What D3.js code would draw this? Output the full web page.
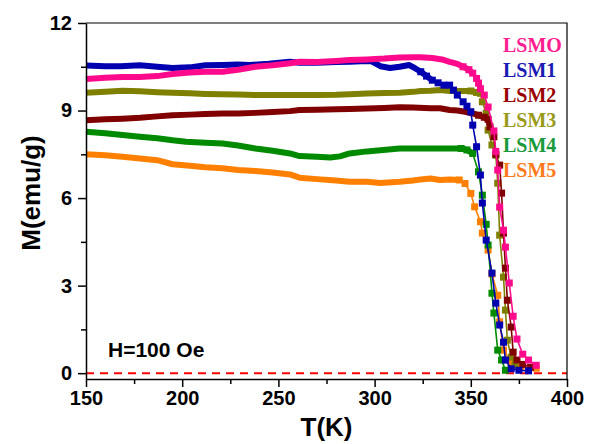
<!DOCTYPE html>
<html><head><meta charset="utf-8">
<script src="https://cdn.jsdelivr.net/npm/d3@7/dist/d3.min.js"></script>
<style>body{margin:0;background:#fff}svg{display:block}</style>
</head><body>
<script>
const seriesNames = ["LSMO","LSM1","LSM2","LSM3","LSM4","LSM5"];
const LSMO_T = [150,160,169,178,187,195,204,212,221,229,238,247,256,261,270,280,287,296,305,313,320,324,330,335,339,343,346,349,351,353,354,355,357,359,362,363,364,365,367,368,370,372,374,377,380,384];
const LSMO_M = [10.08,10.12,10.15,10.15,10.18,10.25,10.3,10.33,10.33,10.4,10.5,10.55,10.62,10.67,10.66,10.7,10.73,10.75,10.78,10.82,10.83,10.83,10.8,10.75,10.67,10.6,10.5,10.4,10.28,10.1,9.94,9.75,9.53,9.12,8.3,7.6,6.96,5.69,4.9,4.32,3.09,1.95,1.17,0.65,0.45,0.27];
const LSM1_T = [150,160,168,178,187,195,204,212,221,229,235,245,256,261,270,280,287,293,298,303,308,313,318,321,324,327,330,333,336,339,341,343,346,348,350,351,353,355,356,358,361,363,365,367,368,371,375,380];
const LSM1_M = [10.54,10.52,10.52,10.55,10.5,10.46,10.48,10.55,10.56,10.58,10.56,10.6,10.67,10.64,10.64,10.66,10.67,10.69,10.7,10.52,10.46,10.5,10.56,10.45,10.33,10.18,10.04,9.95,9.87,9.87,9.7,9.53,9.3,9.15,8.96,8.5,7.76,6.79,5.83,4.56,3.43,2.4,1.65,1.06,0.45,0.15,0.1,0.08];
const LSM2_T = [150,160,169,178,187,195,204,212,221,229,238,247,256,261,270,280,287,296,305,313,320,329,334,339,343,347,351,354,357,359,360,362,363,365,366,367,368,369,371,372,374,377,381];
const LSM2_M = [8.67,8.7,8.72,8.75,8.8,8.84,8.86,8.88,8.9,8.9,8.92,8.95,8.98,9.02,9.03,9.04,9.05,9.07,9.09,9.11,9.1,9.08,9.08,9.02,9.0,8.96,8.9,8.84,8.77,8.7,8.44,8.1,7.5,7.13,6.17,4.8,3.6,2.5,1.58,0.72,0.45,0.3,0.2];
const LSM3_T = [150,160,169,178,187,195,204,212,221,229,238,247,256,261,270,280,287,296,305,313,320,324,329,334,339,345,350,353,355,356,358,359,361,363,364,365,367,368,369,371,373];
const LSM3_M = [9.61,9.64,9.68,9.66,9.63,9.61,9.59,9.57,9.56,9.55,9.53,9.53,9.53,9.53,9.53,9.54,9.56,9.58,9.6,9.61,9.64,9.67,9.68,9.7,9.67,9.67,9.67,9.62,9.59,9.3,8.91,8.33,7.82,7.47,6.51,4.73,3.29,2.16,1.13,0.55,0.27];
const LSM4_T = [150,160,169,178,187,195,202,212,221,229,238,247,256,261,270,277,282,287,296,303,313,320,329,334,339,345,348,351,354,356,358,359,361,362,364,366,368];
const LSM4_M = [8.27,8.22,8.16,8.1,8.05,7.98,7.93,7.9,7.87,7.8,7.7,7.62,7.53,7.44,7.42,7.39,7.43,7.53,7.6,7.64,7.7,7.7,7.7,7.7,7.7,7.7,7.65,7.53,6.9,6.1,5.1,4.39,2.74,2.06,0.79,0.45,0.1];
const LSM5_T = [150,160,169,178,187,195,204,212,221,229,238,247,256,261,270,280,287,296,303,313,320,324,329,334,339,344,347,350,352,355,356,359,361,364,365,367,371,376,384];
const LSM5_M = [7.5,7.47,7.42,7.36,7.3,7.16,7.11,7.06,7.02,6.96,6.93,6.88,6.81,6.7,6.65,6.6,6.56,6.56,6.52,6.56,6.6,6.64,6.67,6.62,6.64,6.62,6.5,6.16,5.7,5.19,4.8,4.22,3.4,2.67,1.76,0.79,0.34,0.2,0.17];
const onsetT = [352,330,360,355,351,346];
const xTicks = [150,200,250,300,350,400];
const yTicks = [0,3,6,9,12];
const lineColors = ["#ff0a8c","#0000b0","#800000","#808000","#008a00","#ff8000"];
const textColors = ["#ff2090","#1a1ab4","#9a0000","#9a9a1a","#1a9a3a","#ff7a1a"];

const Ts = [LSMO_T,LSM1_T,LSM2_T,LSM3_T,LSM4_T,LSM5_T];
const Ms = [LSMO_M,LSM1_M,LSM2_M,LSM3_M,LSM4_M,LSM5_M];

const W=594,H=444, L=86,R=567,T=23,B=379;
const svg=d3.select("body").append("svg").attr("width",W).attr("height",H);
const x=d3.scaleLinear().domain([150,400]).range([L,R]);
const y=d3.scaleLinear().domain([-0.2,12]).range([B,T]);

svg.append("line").attr("x1",x(150)).attr("x2",x(400)).attr("y1",y(0)).attr("y2",y(0))
  .attr("stroke","#ff0000").attr("stroke-width",2).attr("stroke-dasharray","8,6");

const line=d3.line().x(d=>x(d[0])).y(d=>y(d[1]));
for(let i=5;i>=0;i--){
  const pts=Ts[i].map((t,k)=>[t,Ms[i][k]]);
  const g=svg.append("g");
  g.append("path").datum(pts.filter(p=>p[0]<=onsetT[i])).attr("d",line)
    .attr("fill","none").attr("stroke",lineColors[i]).attr("stroke-width",6).attr("stroke-linejoin","round");
  g.append("path").datum(pts).attr("d",line)
    .attr("fill","none").attr("stroke",lineColors[i]).attr("stroke-width",1.6);
  g.selectAll("rect").data(pts.filter(p=>p[0]>=onsetT[i]-6)).join("rect")
    .attr("x",d=>x(d[0])-3.5).attr("y",d=>y(d[1])-3.5).attr("width",7).attr("height",7)
    .attr("fill",lineColors[i]);
}

svg.append("path").attr("d",`M${L},${T}H${R}V${B}`).attr("fill","none").attr("stroke","#000").attr("stroke-width",1.2);

const xAxis=d3.axisBottom(x).tickValues(xTicks).tickSize(8).tickSizeOuter(0).tickPadding(4);
const gx=svg.append("g").attr("transform",`translate(0,${B})`).call(xAxis);
gx.selectAll("line,path").attr("stroke","#000").attr("stroke-width",1.5);
gx.selectAll("text").attr("font-family","Arial, Liberation Sans, sans-serif").attr("font-weight","bold").attr("font-size",20).attr("fill","#000");
const xMinor=d3.axisBottom(x).tickValues([175,225,275,325,375]).tickSize(5).tickFormat("");
const gxm=svg.append("g").attr("transform",`translate(0,${B})`).call(xMinor);
gxm.select("path").remove(); gxm.selectAll("line").attr("stroke","#000").attr("stroke-width",1.5);

const yAxis=d3.axisLeft(y).tickValues(yTicks).tickSize(8).tickSizeOuter(0).tickPadding(6);
const gy=svg.append("g").attr("transform",`translate(${L},0)`).call(yAxis);
gy.selectAll("line,path").attr("stroke","#000").attr("stroke-width",1.5);
gy.selectAll("text").attr("font-family","Arial, Liberation Sans, sans-serif").attr("font-weight","bold").attr("font-size",20).attr("fill","#000");
const yMinor=d3.axisLeft(y).tickValues([1.5,4.5,7.5,10.5]).tickSize(5).tickFormat("");
const gym=svg.append("g").attr("transform",`translate(${L},0)`).call(yMinor);
gym.select("path").remove(); gym.selectAll("line").attr("stroke","#000").attr("stroke-width",1.5);

svg.append("text").attr("x",(L+R)/2).attr("y",436).attr("text-anchor","middle")
  .attr("font-family","Arial, Liberation Sans, sans-serif").attr("font-weight","bold").attr("font-size",26).text("T(K)");
svg.append("text").attr("transform",`translate(40,193) rotate(-90)`).attr("text-anchor","middle")
  .attr("font-family","Arial, Liberation Sans, sans-serif").attr("font-weight","bold").attr("font-size",26).text("M(emu/g)");
svg.append("text").attr("x",108).attr("y",357)
  .attr("font-family","Arial, Liberation Sans, sans-serif").attr("font-weight","bold").attr("font-size",21).text("H=100 Oe");

seriesNames.forEach((n,i)=>{
  svg.append("text").attr("x",503).attr("y",52+i*25)
    .attr("font-family","'Times New Roman', 'Liberation Serif', serif").attr("font-weight","bold")
    .attr("font-size",20).attr("fill",textColors[i]).text(n);
});
</script>
</body></html>
